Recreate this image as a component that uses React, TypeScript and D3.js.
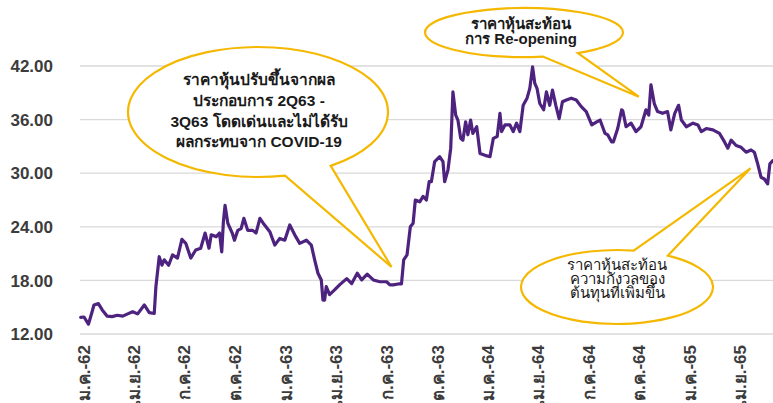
import React, { useEffect } from "react";
import * as d3 from "d3";

const W = 773;
const H = 403;

const yTicks = [12, 18, 24, 30, 36, 42];

const tickDates = [
  "2019-01-01", "2019-04-01", "2019-07-01", "2019-10-01",
  "2020-01-01", "2020-04-01", "2020-07-01", "2020-10-01",
  "2021-01-01", "2021-04-01", "2021-07-01", "2021-10-01",
  "2022-01-01", "2022-04-01",
];

const tickLabels = [
  "ม.ค.-62", "เม.ย.-62", "ก.ค.-62", "ต.ค.-62",
  "ม.ค.-63", "เม.ย.-63", "ก.ค.-63", "ต.ค.-63",
  "ม.ค.-64", "เม.ย.-64", "ก.ค.-64", "ต.ค.-64",
  "ม.ค.-65", "เม.ย.-65",
];

const priceDates = [
  "2018-12-26", "2019-01-01", "2019-01-09", "2019-01-15", "2019-01-19", "2019-01-27",
  "2019-02-03", "2019-02-12", "2019-02-21", "2019-03-02", "2019-03-12", "2019-03-21",
  "2019-03-30", "2019-04-08", "2019-04-20", "2019-04-29", "2019-05-08", "2019-05-11",
  "2019-05-17", "2019-05-22", "2019-05-26", "2019-06-03", "2019-06-10", "2019-06-19",
  "2019-06-27", "2019-07-04", "2019-07-13", "2019-07-22", "2019-07-31", "2019-08-08",
  "2019-08-15", "2019-08-19", "2019-08-28", "2019-09-03", "2019-09-07", "2019-09-10",
  "2019-09-13", "2019-09-18", "2019-09-26", "2019-09-30", "2019-10-06", "2019-10-12",
  "2019-10-17", "2019-10-24", "2019-11-02", "2019-11-08", "2019-11-15", "2019-11-21",
  "2019-12-03", "2019-12-12", "2019-12-21", "2019-12-30", "2020-01-08", "2020-01-17",
  "2020-01-26", "2020-02-07", "2020-02-16", "2020-02-22", "2020-02-28", "2020-03-05",
  "2020-03-08", "2020-03-11", "2020-03-14", "2020-03-20", "2020-03-29", "2020-04-07",
  "2020-04-20", "2020-04-29", "2020-05-09", "2020-05-17", "2020-05-27", "2020-06-07",
  "2020-06-19", "2020-07-01", "2020-07-07", "2020-07-13", "2020-07-22", "2020-07-28",
  "2020-08-01", "2020-08-07", "2020-08-13", "2020-08-18", "2020-08-22", "2020-08-30",
  "2020-09-05", "2020-09-11", "2020-09-16", "2020-09-20", "2020-09-26", "2020-10-05",
  "2020-10-11", "2020-10-14", "2020-10-20", "2020-10-25", "2020-10-29", "2020-11-03",
  "2020-11-07", "2020-11-12", "2020-11-16", "2020-11-21", "2020-11-25", "2020-11-30",
  "2020-12-04", "2020-12-11", "2020-12-17", "2020-12-26", "2021-01-04", "2021-01-10",
  "2021-01-17", "2021-01-22", "2021-01-25", "2021-01-31", "2021-02-09", "2021-02-15",
  "2021-02-21", "2021-02-27", "2021-03-05", "2021-03-12", "2021-03-17", "2021-03-22",
  "2021-03-26", "2021-03-30", "2021-04-04", "2021-04-11", "2021-04-16", "2021-04-22",
  "2021-04-27", "2021-05-03", "2021-05-09", "2021-05-15", "2021-05-22", "2021-05-31",
  "2021-06-09", "2021-06-18", "2021-06-27", "2021-07-07", "2021-07-16", "2021-07-22",
  "2021-07-31", "2021-08-05", "2021-08-12", "2021-08-15", "2021-08-23", "2021-08-30",
  "2021-09-01", "2021-09-07", "2021-09-16", "2021-09-25", "2021-10-04", "2021-10-13",
  "2021-10-18", "2021-10-22", "2021-10-28", "2021-11-03", "2021-11-12", "2021-11-21",
  "2021-11-27", "2021-12-04", "2021-12-11", "2021-12-16", "2021-12-25", "2022-01-06",
  "2022-01-15", "2022-01-21", "2022-01-30", "2022-02-11", "2022-02-23", "2022-03-04",
  "2022-03-10", "2022-03-16", "2022-03-25", "2022-04-03", "2022-04-12", "2022-04-21",
  "2022-04-27", "2022-05-03", "2022-05-09", "2022-05-15", "2022-05-21", "2022-05-25",
  "2022-05-30",
];

const priceValues = [
  13.87, 13.9, 13.1, 14.35, 15.25, 15.4,
  14.7, 14.0, 13.95, 14.1, 14.0, 14.25,
  14.5, 14.25, 15.25, 14.4, 14.3, 17.3,
  20.65, 19.7, 20.3, 19.7, 20.85, 20.5,
  22.6, 22.15, 20.5, 21.4, 21.6, 23.3,
  21.6, 23.1, 22.9, 23.3, 21.2, 24.55,
  26.4, 24.4, 23.3, 22.5, 23.6, 23.8,
  24.95, 23.6, 23.6, 23.3, 24.95, 24.4,
  23.45, 21.95, 22.7, 22.5, 24.2, 23.1,
  22.15, 22.5, 21.95, 20.3, 18.8, 18.05,
  15.8, 15.8, 17.3, 16.4, 16.93, 17.5,
  18.2, 17.65, 18.8, 18.05, 18.7, 18.05,
  17.85, 17.85, 17.5, 17.5, 17.6, 17.6,
  20.3, 20.85, 24.0, 24.4, 27.0, 26.8,
  27.4, 27.0, 29.05, 29.05, 31.3, 31.85,
  31.3, 29.05, 30.35, 32.8, 39.1, 36.5,
  35.95, 33.9, 33.7, 35.75, 34.3, 35.95,
  34.45, 35.2, 32.2, 32.0, 31.85, 33.9,
  34.1, 36.7, 34.65, 35.4, 35.4, 34.65,
  35.6, 34.65, 37.6, 38.4, 39.5, 41.9,
  40.05, 39.5, 37.8, 37.1, 39.1, 37.6,
  39.3, 37.6, 36.1, 38.0, 38.2, 38.4,
  38.2, 37.45, 36.9, 35.4, 35.75, 35.95,
  34.45, 34.28, 33.5, 33.5, 35.03, 37.1,
  37.0, 35.2, 35.6, 34.65, 35.2, 37.1,
  36.5, 39.9, 37.8, 36.9, 36.7, 36.9,
  34.85, 36.7, 37.6, 35.95, 35.2, 35.6,
  35.4, 34.65, 35.0, 34.85, 34.45, 33.5,
  32.8, 33.7, 33.1, 32.9, 32.35, 32.6,
  32.35, 31.05, 29.55, 29.35, 28.8, 31.05,
  31.4,
];

const calloutTexts = [
  ["ราคาหุ้นปรับขึ้นจากผล", "ประกอบการ 2Q63 -", "3Q63 โดดเด่นและไม่ได้รับ", "ผลกระทบจาก COVID-19"],
  ["ราคาหุ้นสะท้อน", "การ Re-opening"],
  ["ราคาหุ้นสะท้อน", "ความกังวลของ", "ต้นทุนที่เพิ่มขึ้น"],
];
const calloutTargetDates = ["2020-07-10", "2021-09-30", "2022-04-20"];
const calloutTargetValues = [19.5, 38.56, 30.55];

// layout of the speech bubbles (pixels)
const bubbleLayout = [
  { cx: 258, cy: 112, rx: 130, ry: 65, t1: 56, t2: 78, tx: 259, ty0: 85, lh: 20.8, bold: true, fs: 15.5 },
  { cx: 524, cy: 32.5, rx: 99, ry: 24.5, t1: 57, t2: 79, tx: 521, ty0: 29, lh: 14.5, bold: true, fs: 15 },
  { cx: 617, cy: 287, rx: 96, ry: 37, t1: -80, t2: -58, tx: 617, ty0: 270, lh: 14, bold: false, fs: 15 },
];

const FONT = "'Liberation Sans', Arial, Tahoma, sans-serif";

function bubblePath(cx: number, cy: number, rx: number, ry: number, t1: number, t2: number, px: number, py: number) {
  const P = (t: number) => [cx + rx * Math.cos((t * Math.PI) / 180), cy + ry * Math.sin((t * Math.PI) / 180)];
  const [x2, y2] = P(t2);
  const [x1, y1] = P(t1);
  return `M${x2},${y2} A${rx},${ry} 0 1 1 ${x1},${y1} L${px},${py} Z`;
}

export default function App() {
  useEffect(() => {
    document.body.style.margin = "0";
  }, []);

  const parse = d3.utcParse("%Y-%m-%d");
  const x = d3
    .scaleUtc()
    .domain([parse("2019-01-01") as Date, parse("2022-04-01") as Date])
    .range([84, 740]);
  const y = d3.scaleLinear().domain([12, 42]).range([334, 66]);

  const pts = priceDates.map((d, i) => [parse(d) as Date, priceValues[i]] as [Date, number]);
  const line = d3
    .line<[Date, number]>()
    .x((d) => x(d[0]))
    .y((d) => y(d[1]));

  return (
    <svg width={W} height={H} style={{ display: "block", background: "#fff" }} fontFamily={FONT}>
      {yTicks.map((t) => (
        <g key={t}>
          <line x1={80} x2={W} y1={y(t)} y2={y(t)} stroke="#d9d9d9" strokeWidth={1.3} />
          <text x={53} y={y(t)} dy="0.36em" textAnchor="end" fontSize={17} fontWeight="bold" fill="#3c3c3c">
            {t.toFixed(2)}
          </text>
        </g>
      ))}
      {tickDates.map((d, i) => {
        const tx = x(parse(d) as Date);
        return (
          <text
            key={d}
            transform={`translate(${tx},345) rotate(-90)`}
            dy="0.36em"
            textAnchor="end"
            fontSize={17}
            fontWeight="bold"
            fill="#3c3c3c"
          >
            {tickLabels[i]}
          </text>
        );
      })}
      <path d={line(pts) || ""} fill="none" stroke="#4e237f" strokeWidth={3.2} strokeLinejoin="round" strokeLinecap="round" />
      {bubbleLayout.map((b, i) => {
        const px = x(parse(calloutTargetDates[i]) as Date);
        const py = y(calloutTargetValues[i]);
        return (
          <g key={i}>
            <path d={bubblePath(b.cx, b.cy, b.rx, b.ry, b.t1, b.t2, px, py)} fill="#fff" stroke="#f5b800" strokeWidth={2.2} strokeLinejoin="miter" />
            {calloutTexts[i].map((s, j) => (
              <text
                key={j}
                x={b.tx}
                y={b.ty0 + j * b.lh}
                textAnchor="middle"
                fontSize={b.fs}
                fontWeight={b.bold ? "bold" : "normal"}
                fill="#1a1a1a"
              >
                {s}
              </text>
            ))}
          </g>
        );
      })}
    </svg>
  );
}
